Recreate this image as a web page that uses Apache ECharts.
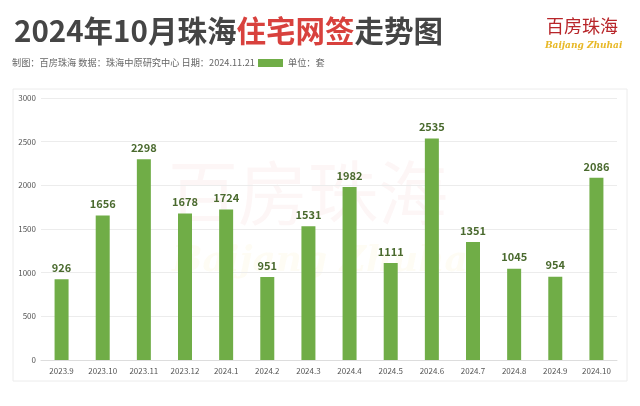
<!DOCTYPE html>
<html><head><meta charset="utf-8">
<script src="https://cdn.jsdelivr.net/npm/echarts@6/dist/echarts.min.js"></script>
<style>html,body{margin:0;padding:0;background:#fff}#c{width:640px;height:406px}</style>
</head><body><div id="c"></div>
<script>
const categories = ['2023.9','2023.10','2023.11','2023.12','2024.1','2024.2','2024.3','2024.4','2024.5','2024.6','2024.7','2024.8','2024.9','2024.10'];
const values = [926,1656,2298,1678,1724,951,1531,1982,1111,2535,1351,1045,954,2086];
const yTicks = [0,500,1000,1500,2000,2500,3000];

const chart = echarts.init(document.getElementById('c'));
const F = '"Noto Sans CJK SC","Noto Sans",sans-serif';
chart.setOption({
  backgroundColor:'#fff',
  animation:false,
  title:{
    left:9, top:11,
    text:'{a|2024年10月珠海}{b|住宅网签}{a|走势图}',
    textStyle:{rich:{
      a:{fontSize:29.5,fontWeight:'bold',color:'#454545',fontFamily:F},
      b:{fontSize:29.5,fontWeight:'bold',color:'#d8413d',fontFamily:F}
    }}
  },
  graphic:[
    {type:'rect',shape:{x:13,y:89,width:614,height:292},style:{fill:'#fff',stroke:'#ececec',lineWidth:1},z:-10},
    {type:'text',left:12,top:58,style:{text:'制图：百房珠海 数据：珠海中原研究中心 日期：2024.11.21',fontSize:9.2,fill:'#666',fontFamily:F}},
    {type:'rect',shape:{x:258,y:59,width:25,height:8},style:{fill:'#70ad47'}},
    {type:'text',left:288,top:58,style:{text:'单位：套',fontSize:9.2,fill:'#666',fontFamily:F}},
    {type:'text',left:546,top:17,style:{text:'百房珠海',fontSize:18,fill:'#b8262a',fontFamily:F}},
    {type:'text',left:545,top:41,style:{text:'Baijang Zhuhai',fontSize:9,fontStyle:'italic',fontWeight:'bold',fill:'#e8b826',fontFamily:'"DejaVu Serif",serif'}},
    {type:'text',left:168,top:158,style:{text:'百房珠海',fontSize:70,fill:'rgba(225,70,70,0.05)',fontFamily:F},z:-1},
    {type:'text',left:172,top:244,style:{text:'Baijang Zhuhai',fontSize:36,fontStyle:'italic',fontWeight:'bold',fill:'rgba(240,190,40,0.05)',fontFamily:'"DejaVu Serif",serif'},z:-1}
  ],
  grid:{left:41,right:23,top:98,bottom:46},
  xAxis:{
    type:'category',data:categories,
    axisLine:{lineStyle:{color:'#ddd'}},
    axisTick:{show:false},
    axisLabel:{color:'#555',fontSize:8,margin:7,interval:0,fontFamily:F}
  },
  yAxis:{
    type:'value',min:0,max:3000,interval:500,
    axisLine:{show:false},axisTick:{show:false},
    axisLabel:{color:'#555',fontSize:8,margin:5,fontFamily:F,
      formatter:v=>yTicks.includes(v)?String(v):''},
    splitLine:{lineStyle:{color:'#ececec'}}
  },
  series:[{
    type:'bar',data:values,barWidth:14,
    itemStyle:{color:'#70ad47'},
    label:{show:true,position:'top',distance:6,color:'#4a6a2e',fontSize:11,fontWeight:'bold',fontFamily:F}
  }]
});
</script></body></html>
